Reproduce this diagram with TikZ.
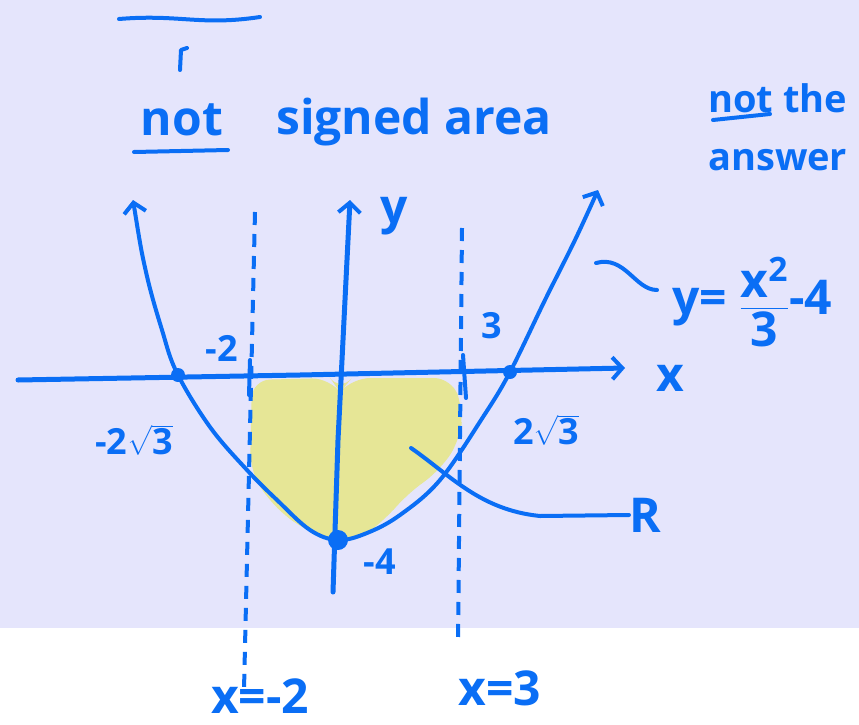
\documentclass[tikz,border=0pt]{standalone}
\usepackage{amsmath}
\usepackage{fontspec}
\setmainfont{Open Sans}
\usetikzlibrary{arrows.meta}
\definecolor{ink}{HTML}{0A6EF5}
\definecolor{paper}{HTML}{E5E5FC}
\definecolor{marker}{HTML}{E6E696}

\begin{document}
\begin{tikzpicture}[
  x=1pt, y=-1pt,
  pen/.style={draw=ink, line width=4pt, line cap=round, line join=round},
  axis/.style={pen, line width=5pt, -{Straight Barb[length=10pt, width=22pt, line width=4pt]}},
  guide/.style={draw=ink, line width=4pt, dash pattern=on 13pt off 9pt},
  hand/.style={text=ink, font=\fontsize{48}{54}\selectfont\bfseries, inner sep=0pt},
  note/.style={text=ink, font=\fontsize{38}{44}\selectfont\bfseries, inner sep=0pt},
  small/.style={text=ink, font=\fontsize{36}{42}\selectfont\bfseries, inner sep=0pt},
]
\useasboundingbox (0,0) rectangle (859,725);
\fill[white] (0,0) rectangle (859,725);
\fill[paper] (0,0) rectangle (859,628);

% shaded region R
\fill[marker, rounded corners=18pt] (252,380) -- (330,378) -- (340,392) -- (352,378) -- (452,378)
  -- (463,410) -- (460,440) -- (440,470) -- (405,496) -- (385,520) -- (350,545) -- (300,528)
  -- (268,500) -- (250,470) -- cycle;

% top marks
\draw[pen] (119,19) .. controls (180,14) and (200,26) .. (260,17);
\draw[pen] (180,70) -- (181,50) -- (187,48);

\node[hand] (notA) at (182,120) {not};
\draw[pen] (134,152) -- (228,150);
\node[hand] (signed) at (414,122) {signed area};
\node[note, anchor=west] (notB) at (708,98) {not the};
\draw[pen] (713,120) -- (770,114);
\node[note, anchor=west] (answer) at (708,160) {answer};

% guide lines
\draw[guide] (255,212) -- (244,690);
\draw[guide] (462,228) -- (458,645);

% axes
\draw[axis] (18,380) -- (300,375) -- (625,368);
\draw[axis] (333,592) -- (338,440) -- (350,200);
\draw[pen] (250,360) -- (249,395);
\draw[pen] (463,355) -- (466,398);

% parabola
\draw[pen, {Straight Barb[length=10pt, width=22pt, line width=4pt]}-{Straight Barb[length=10pt, width=22pt, line width=4pt]}]
  plot[smooth, tension=0.6] coordinates {(133,200) (146,272) (162,330) (177,373) (210,427) (247,470) (277,500)
  (310,530) (338,540) (367,533) (400,515) (440,480) (483,417) (510,372) (545,300) (575,240) (598,190)};

\fill[ink] (178,375) circle (7pt);
\fill[ink] (510,372) circle (7pt);
\fill[ink] (338,540) circle (10pt);

% labels
\node[hand] (ylab) at (394,216) {y};
\node[hand] (xlab) at (670,378) {x};
\node[small] (mtwo) at (222,348) {-2};
\node[small] (three) at (492,326) {3};
\node[small] (mroot) at (134,440) {-2$\sqrt{\text{3}}$};
\node[small] (proot) at (546,430) {2$\sqrt{\text{3}}$};
\node[small] (mfour) at (380,562) {-4};
\node[hand, anchor=west] (eqn) at (672,302) {y= $\dfrac{\text{x}^{\text{2}}}{\text{3}}$-4};
\draw[pen] (596,263) .. controls (625,255) and (635,290) .. (657,290);
\node[hand] (rlab) at (645,515) {R};
\coordinate (rpoint) at (411,448);
\draw[pen] (rpoint) .. controls (450,475) and (480,510) .. (540,516) -- (rlab.west);
\node[hand] (xmtwo) at (260,696) {x=-2};
\node[hand] (xthree) at (500,688) {x=3};
\end{tikzpicture}
\end{document}
